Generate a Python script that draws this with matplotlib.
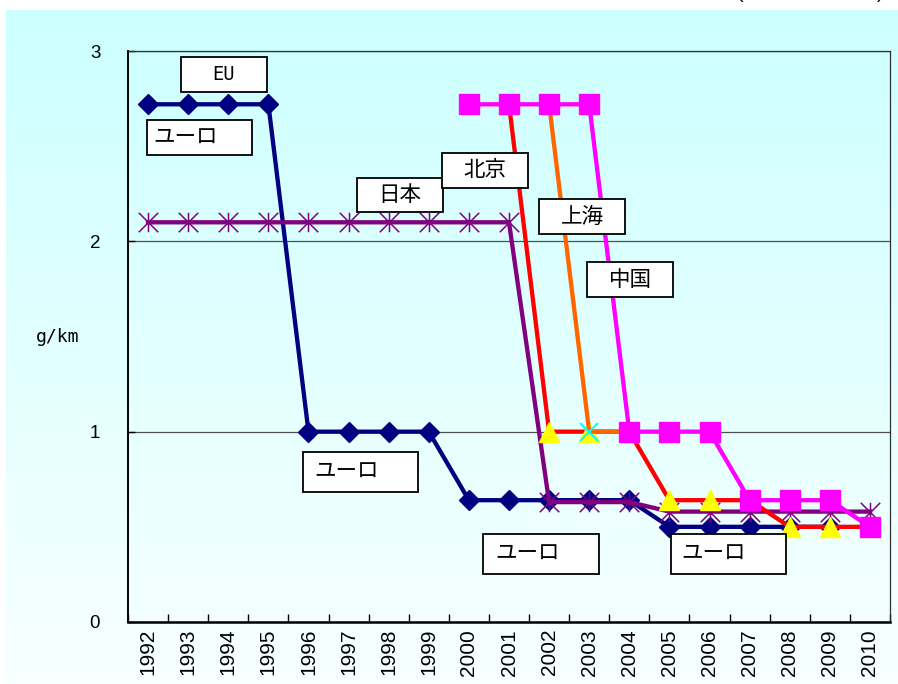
import numpy as np
import matplotlib
matplotlib.use("Agg")
import matplotlib.pyplot as plt
from matplotlib.patches import Rectangle
from matplotlib.path import Path

plt.rcParams['font.family'] = ['Liberation Sans', 'Noto Sans CJK JP', 'DejaVu Sans']

# ---- data -------------------------------------------------------------
years = ['1992', '1993', '1994', '1995', '1996', '1997', '1998', '1999', '2000', '2001',
         '2002', '2003', '2004', '2005', '2006', '2007', '2008', '2009', '2010']
nan = np.nan
eu = [2.72, 2.72, 2.72, 2.72, 1.0, 1.0, 1.0, 1.0, 0.64, 0.64,
      0.64, 0.64, 0.64, 0.5, 0.5, 0.5, 0.5, 0.5, nan]
japan = [2.1, 2.1, 2.1, 2.1, 2.1, 2.1, 2.1, 2.1, 2.1, 2.1,
         0.63, 0.63, 0.63, 0.58, 0.58, 0.58, 0.58, 0.58, 0.58]
beijing = [nan, nan, nan, nan, nan, nan, nan, nan, nan, 2.72,
           1.0, 1.0, 1.0, 0.64, 0.64, 0.64, 0.5, 0.5, 0.5]
shanghai = [nan, nan, nan, nan, nan, nan, nan, nan, nan, nan,
            2.72, 1.0, 1.0, nan, nan, nan, nan, nan, nan]
china = [nan, nan, nan, nan, nan, nan, nan, nan, 2.72, 2.72,
         2.72, 2.72, 1.0, 1.0, 1.0, 0.64, 0.64, 0.64, 0.5]
y_ticks = [0, 1, 2, 3]

W, H = 898, 684
fig = plt.figure(figsize=(W / 100, H / 100), dpi=100)
fig.patch.set_facecolor('white')

# gradient backdrop (cyan at top fading to near white)
bg = fig.add_axes([6 / W, 0, 1 - 6 / W, 1 - 10 / H], zorder=-5)
grad = np.linspace(0, 1, 256)[:, None]
top = np.array([204, 255, 255]) / 255
bot = np.array([248, 255, 255]) / 255
img = top[None, None, :] * (1 - grad[:, :, None]) + bot[None, None, :] * grad[:, :, None]
bg.imshow(img, aspect='auto', extent=[0, 1, 0, 1], origin='upper')
bg.set_axis_off()

ax = fig.add_axes([128 / W, 1 - 622 / H, (890 - 128) / W, (622 - 51) / H])
ax.set_facecolor('none')

x = np.arange(len(years))

# asterisk marker: X plus vertical bar
star = Path([(-1, -1), (1, 1), (-1, 1), (1, -1), (0, -1), (0, 1)],
            [Path.MOVETO, Path.LINETO, Path.MOVETO, Path.LINETO, Path.MOVETO, Path.LINETO])

lw = 3.1
ax.plot(x, np.array(eu, float), color='#000080', lw=lw, marker='D', ms=10,
        mfc='#000080', mec='#000080', zorder=3)
ax.plot(x, np.array(japan, float), color='#800080', lw=lw, marker=star, ms=14,
        mfc='none', mec='#800080', mew=1.1, zorder=4)
ax.plot(x, np.array(beijing, float), color='#FF0000', lw=lw, marker='^', ms=14,
        mfc='#FFFF00', mec='#FFFF00', zorder=5)
ax.plot(x, np.array(shanghai, float), color='#FF6600', lw=lw, marker='x', ms=13,
        mec='#00FFFF', mew=1.4, zorder=6)
ax.plot(x, np.array(china, float), color='#FF00FF', lw=lw, marker='s', ms=15,
        mfc='#FF00FF', mec='#FF00FF', zorder=7)

ax.set_xlim(-0.5, len(years) - 0.5)
ax.set_ylim(0, 3)
ax.set_yticks(y_ticks)
ax.set_yticklabels([str(t) for t in y_ticks], fontsize=13.5)
ax.yaxis.grid(True, color='#505050', lw=0.9)
ax.set_axisbelow(True)
ax.tick_params(axis='y', direction='in', length=5, width=1, pad=20)

ax.set_xticks(x)
ax.set_xticklabels(years, rotation=90, fontsize=15)
ax.set_xticks(np.arange(len(years) + 1) - 0.5, minor=True)
ax.tick_params(axis='x', which='major', length=0, pad=5)
ax.tick_params(axis='x', which='minor', direction='in', length=6, width=1)

for s in ['top', 'right']:
    ax.spines[s].set_linewidth(0.9)
    ax.spines[s].set_color('#303030')
ax.spines['left'].set_linewidth(1.4)
ax.spines['bottom'].set_linewidth(1.8)

fig.text(36 / W, 1 - 337 / H, 'g/km', fontsize=13, family='DejaVu Sans Mono',
         ha='left', va='center')

# unit caption bracket tips along the very top edge
fig.text(737 / W, 1 + 1.5 / H, '(', fontsize=14, ha='left', va='baseline')
fig.text(877 / W, 1 + 1.5 / H, ')', fontsize=14, ha='left', va='baseline')


def label_box(x0, y0, x1, y1, text, align='center', tx=None, fam=None, size=15.5):
    fig.add_artist(Rectangle((x0 / W, 1 - y1 / H), (x1 - x0) / W, (y1 - y0) / H,
                             transform=fig.transFigure, facecolor='white',
                             edgecolor='black', lw=1.3, zorder=20))
    if align == 'center':
        px, ha = (x0 + x1) / 2, 'center'
    else:
        px, ha = tx, 'left'
    fig.text(px / W, 1 - (y0 + y1) / 2 / H, text, ha=ha, va='center', fontsize=size,
             family=fam or ['Noto Sans CJK JP', 'DejaVu Sans'], zorder=21)


label_box(181, 57, 267, 92, 'EU', fam='DejaVu Sans Mono', size=13.5)
label_box(147, 120, 252, 155, 'ユーロ', align='left', tx=153)
label_box(357, 178, 443, 212, '日本')
label_box(442, 153, 528, 188, '北京')
label_box(539, 199, 625, 234, '上海')
label_box(587, 262, 673, 297, '中国')
label_box(303, 452, 418, 492, 'ユーロ', align='left', tx=314)
label_box(483, 534, 599, 574, 'ユーロ', align='left', tx=495)
label_box(671, 534, 786, 574, 'ユーロ', align='left', tx=681)

fig.savefig('out.png', dpi=100)
